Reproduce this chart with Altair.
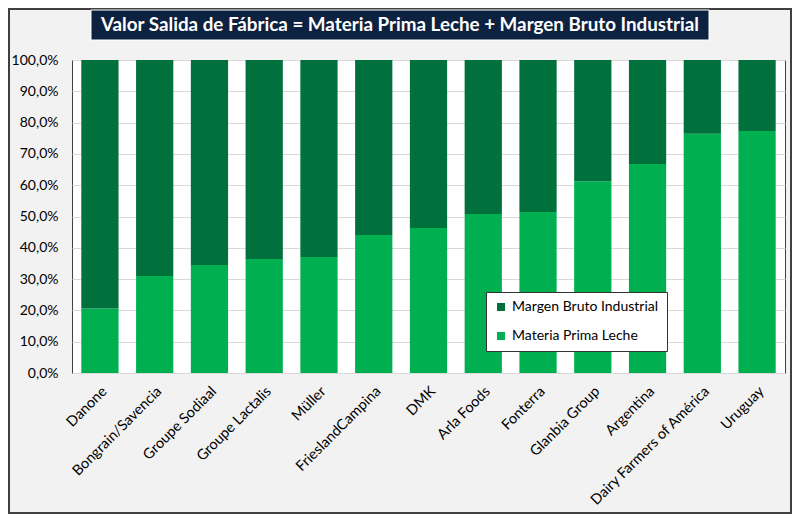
import altair as alt
import pandas as pd

empresas = ["Danone", "Bongrain/Savencia", "Groupe Sodiaal", "Groupe Lactalis", "Müller",
            "FrieslandCampina", "DMK", "Arla Foods", "Fonterra", "Glanbia Group",
            "Argentina", "Dairy Farmers of América", "Uruguay"]
materia_prima = [20.6, 31.0, 34.5, 36.4, 37.1, 44.1, 46.3, 50.8, 51.4, 61.3, 66.8, 76.4, 77.3]
margen_bruto = [79.4, 69.0, 65.5, 63.6, 62.9, 55.9, 53.7, 49.2, 48.6, 38.7, 33.2, 23.6, 22.7]
series = ["Margen Bruto Industrial", "Materia Prima Leche"]
titulo = "Valor Salida de Fábrica = Materia Prima Leche + Margen Bruto Industrial"

rows = []
for e, m, g in zip(empresas, materia_prima, margen_bruto):
    rows.append({"empresa": e, "serie": "Materia Prima Leche", "valor": m / 100, "orden": 0})
    rows.append({"empresa": e, "serie": "Margen Bruto Industrial", "valor": g / 100, "orden": 1})
df = pd.DataFrame(rows)

W, H = 713, 313
FONT = "Lato"

bars = alt.Chart(df).mark_bar().encode(
    x=alt.X("empresa:N", sort=empresas, title=None,
            scale=alt.Scale(paddingInner=0.32, paddingOuter=0.17),
            axis=alt.Axis(labelAngle=-45, labelFontSize=14.5, labelColor="#000000",
                          labelFont=FONT, ticks=False, domain=False, labelPadding=11)),
    y=alt.Y("valor:Q", stack="zero", title=None,
            scale=alt.Scale(domain=[0, 1], nice=False),
            axis=alt.Axis(values=[i / 10 for i in range(11)],
                          labelExpr="replace(format(datum.value, '.1%'), '.', ',')",
                          labelFontSize=14, labelColor="#000000", labelFont=FONT,
                          ticks=False, domain=False, gridColor="#d9d9d9", labelPadding=14)),
    color=alt.Color("serie:N", scale=alt.Scale(domain=series, range=["#00703c", "#00b050"]),
                    legend=alt.Legend(title=None, orient="none", legendX=414, legendY=232,
                                      fillColor="#ffffff", strokeColor="#333333",
                                      padding=8, labelFontSize=14, labelFont=FONT,
                                      labelColor="#000000", symbolType="square",
                                      symbolSize=64, rowPadding=15, labelOffset=4,
                                      symbolStrokeWidth=0)),
    order=alt.Order("orden:Q"),
)

one = pd.DataFrame({"t": [titulo]})

border = alt.Chart(one).mark_rect(fill=None, stroke="#404040", strokeWidth=2).encode(
    x=alt.value(-63), x2=alt.value(W + 6), y=alt.value(-51), y2=alt.value(H + 140))

title_box = alt.Chart(one).mark_rect(fill="#0d2240", stroke="#ffffff", strokeWidth=1).encode(
    x=alt.value(19), x2=alt.value(637), y=alt.value(-50), y2=alt.value(-20))

title_text = alt.Chart(one).mark_text(font=FONT, fontSize=18.8, fontWeight="bold",
                                      color="#ffffff", align="center", baseline="middle").encode(
    x=alt.value(328), y=alt.value(-35), text="t:N")

chart = alt.layer(bars, border, title_box, title_text).properties(
    width=W, height=H,
    background="#f2f2f2",
    padding={"left": 64, "top": 52, "right": 7, "bottom": 141},
    autosize=alt.AutoSizeParams(type="none"),
).configure_view(stroke="#404040", strokeWidth=1, fill="#ffffff")

chart.save("out.html", embed_options={"renderer": "svg", "actions": False})
